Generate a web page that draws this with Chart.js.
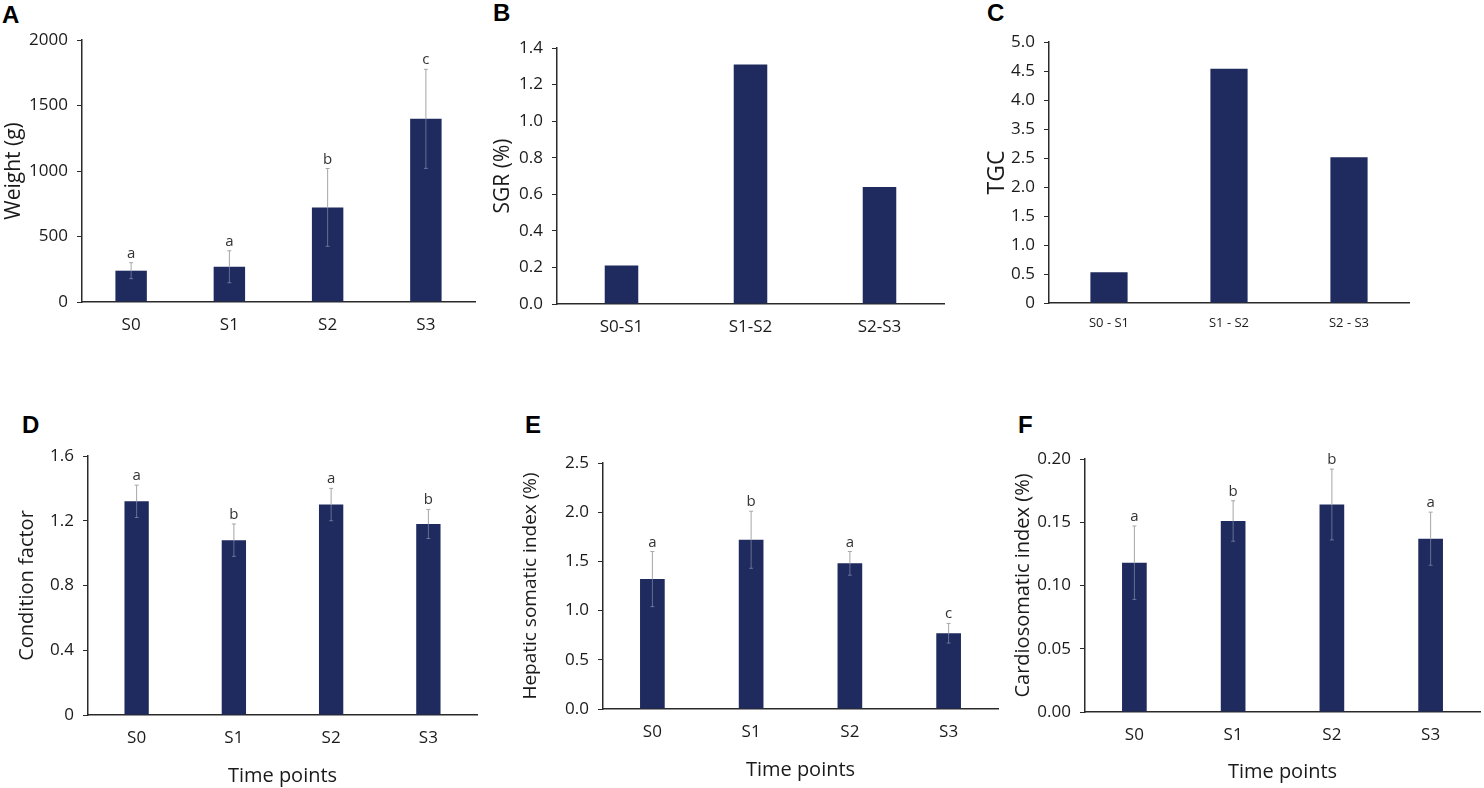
<!DOCTYPE html>
<html>
<head>
<meta charset="utf-8">
<script src="https://cdn.jsdelivr.net/npm/chart.js@4.4.1/dist/chart.umd.min.js"></script>
<style>
    body { margin: 0; background: #fff; width: 1484px; height: 788px; overflow: hidden; position: relative; }
    canvas { position: absolute; }
    .tag { position: absolute; font: bold 24px "Liberation Sans", Arial, sans-serif; line-height: 24px; color: #000; }
</style>
</head>
<body>
<div class="tag" style="left:2px;top:3px">A</div>
<div class="tag" style="left:493px;top:1px">B</div>
<div class="tag" style="left:987px;top:1px">C</div>
<div class="tag" style="left:22px;top:413px">D</div>
<div class="tag" style="left:525px;top:413px">E</div>
<div class="tag" style="left:1018px;top:413px">F</div>
<script>
// Categories
const TIME_POINTS = ["S0", "S1", "S2", "S3"];
const INTERVALS_B = ["S0-S1", "S1-S2", "S2-S3"];
const INTERVALS_C = ["S0 - S1", "S1 - S2", "S2 - S3"];

// A - Weight (g)
const WEIGHT = [239, 269, 722, 1398];
const WEIGHT_SD = [61, 122, 297, 378];
const WEIGHT_LETTERS = ["a", "a", "b", "c"];

// B - SGR (%)
const SGR = [0.21, 1.31, 0.64];

// C - TGC (values read against the printed labels; the axis skips 3.0)
const TGC = [0.53, 4.54, 2.53];
const TGC_TICKS = ["0", "0.5", "1.0", "1.5", "2.0", "2.5", "3.5", "4.0", "4.5", "5.0"];

// D - Condition factor
const CF = [1.32, 1.08, 1.30, 1.18];
const CF_SD = [0.10, 0.10, 0.10, 0.09];
const CF_LETTERS = ["a", "b", "a", "b"];

// E - Hepatic somatic index (%)
const HSI = [1.32, 1.72, 1.48, 0.77];
const HSI_SD = [0.28, 0.29, 0.12, 0.10];
const HSI_LETTERS = ["a", "b", "a", "c"];

// F - Cardiosomatic index (%)
const CSI = [0.118, 0.151, 0.164, 0.137];
const CSI_SD = [0.029, 0.016, 0.028, 0.021];
const CSI_LETTERS = ["a", "b", "b", "a"];

// ----- ----- ----- ----- -----

const NAVY = "#1f2a5e";
const AXIS = "#2a2a2a";
const TEXT = "#1a1a1a";
const FONT = "'Open Sans', sans-serif";

// printed TGC value -> position on the evenly spaced tick index
tgcToAxis = (v) => {
    const nums = TGC_TICKS.map(Number);
    for (let k = 0; k < nums.length - 1; k++) {
        if (v <= nums[k + 1]) {
            return k + (v - nums[k]) / (nums[k + 1] - nums[k]);
        }
    }
    return nums.length - 1;
};

// error bars + significance letters
const errorBars = {
    id: "errorBars",
    afterDatasetsDraw(chart, args, opts) {
        const ctx = chart.ctx;
        const y = chart.scales.y;
        const data = chart.data.datasets[0].data;
        chart.getDatasetMeta(0).data.forEach((bar, i) => {
            const v = data[i];
            let top = bar.y;
            if (opts.errors) {
                const e = opts.errors[i];
                top = y.getPixelForValue(v + e);
                const bot = y.getPixelForValue(v - e);
                ctx.save();
                ctx.lineWidth = 1;
                ctx.strokeStyle = "#a6a6a6";
                ctx.beginPath();
                ctx.moveTo(bar.x, bar.y);
                ctx.lineTo(bar.x, top);
                ctx.moveTo(bar.x - 2, top);
                ctx.lineTo(bar.x + 2, top);
                ctx.stroke();
                ctx.strokeStyle = "rgba(190,195,215,0.45)";
                ctx.beginPath();
                ctx.moveTo(bar.x, bar.y);
                ctx.lineTo(bar.x, bot);
                ctx.moveTo(bar.x - 2, bot);
                ctx.lineTo(bar.x + 2, bot);
                ctx.stroke();
                ctx.restore();
            }
            if (opts.letters) {
                ctx.save();
                ctx.font = "15px " + FONT;
                ctx.fillStyle = "#333";
                ctx.textAlign = "center";
                ctx.textBaseline = "alphabetic";
                ctx.fillText(opts.letters[i], bar.x, top - 5);
                ctx.restore();
            }
        });
    },
};

setupPanel = (p) => {
    const canvas = document.createElement("canvas");
    canvas.width = p.box[2];
    canvas.height = p.box[3];
    canvas.style.left = p.box[0] + "px";
    canvas.style.top = p.box[1] + "px";
    document.body.appendChild(canvas);

    const config = {
        type: "bar",
        data: {
            labels: p.labels,
            datasets: [
                {
                    data: p.values,
                    backgroundColor: NAVY,
                    categoryPercentage: 1,
                    barPercentage: p.barPct,
                },
            ],
        },
        options: {
            responsive: false,
            animation: false,
            layout: {
                padding: { top: p.inset.top, right: p.inset.right, left: 0, bottom: 0 },
            },
            plugins: {
                legend: { display: false },
                tooltip: { enabled: false },
                errorBars: { errors: p.errors, letters: p.letters },
            },
            scales: {
                x: {
                    grid: { display: true, drawOnChartArea: false, drawTicks: false },
                    border: { display: true, color: AXIS, width: 1.5 },
                    ticks: {
                        font: { family: FONT, size: p.xTickSize || 17 },
                        color: TEXT,
                        padding: p.xTickPad || 13,
                    },
                    title: {
                        display: !!p.xTitle,
                        text: p.xTitle || "",
                        font: { family: FONT, size: 20 },
                        color: TEXT,
                        padding: { top: 0, bottom: p.xTitlePad || 0 },
                    },
                    afterFit: (s) => { s.height = p.inset.bottom; },
                },
                y: {
                    min: p.yMin,
                    max: p.yMax,
                    ticks: {
                        stepSize: p.step,
                        autoSkip: false,
                        callback: p.fmt,
                        font: { family: FONT, size: 17 },
                        color: TEXT,
                        padding: 9,
                    },
                    grid: { drawOnChartArea: false, drawTicks: true, tickLength: 5, color: AXIS, lineWidth: 1 },
                    border: { display: true, color: AXIS, width: 1.5 },
                    title: {
                        display: true,
                        text: p.yTitle,
                        font: { family: FONT, size: p.yTitleSize },
                        color: TEXT,
                        padding: { top: p.yTitlePad, bottom: 0 },
                    },
                    afterFit: (s) => { s.width = p.inset.left; },
                },
            },
        },
        plugins: [errorBars],
    };

    let lineGraph = new Chart(canvas, config);
};

// A
setupPanel({
    box: [0, 0, 490, 345], inset: { left: 82, top: 40, right: 15, bottom: 43 },
    labels: TIME_POINTS, values: WEIGHT, errors: WEIGHT_SD, letters: WEIGHT_LETTERS,
    barPct: 0.32, yMin: 0, yMax: 2000, step: 500, fmt: (v) => String(v),
    yTitle: "Weight (g)", yTitleSize: 21, yTitlePad: 1,
});

// B
setupPanel({
    box: [490, 0, 490, 345], inset: { left: 67, top: 48, right: 36, bottom: 41 },
    labels: INTERVALS_B, values: SGR,
    barPct: 0.26, yMin: 0, yMax: 1.4, step: 0.2, fmt: (v) => v.toFixed(1),
    yTitle: "SGR (%)", yTitleSize: 21, yTitlePad: 0,
});

// C
setupPanel({
    box: [980, 0, 504, 345], inset: { left: 69, top: 42, right: 75, bottom: 42 },
    labels: INTERVALS_C, values: TGC.map(tgcToAxis),
    barPct: 0.31, yMin: 0, yMax: TGC_TICKS.length - 1, step: 1,
    fmt: (v) => TGC_TICKS[Math.round(v)],
    xTickSize: 13, xTickPad: 12,
    yTitle: "TGC", yTitleSize: 23, yTitlePad: 4,
});

// D
setupPanel({
    box: [0, 420, 490, 368], inset: { left: 88, top: 36, right: 13, bottom: 73 },
    labels: TIME_POINTS, values: CF, errors: CF_SD, letters: CF_LETTERS,
    barPct: 0.25, yMin: 0, yMax: 1.6, step: 0.4, fmt: (v) => (v === 0 ? "0" : v.toFixed(1)),
    yTitle: "Condition factor", yTitleSize: 20, yTitlePad: 15,
    xTitle: "Time points", xTitlePad: 0,
});

// E
setupPanel({
    box: [490, 420, 510, 368], inset: { left: 113, top: 43, right: 2, bottom: 79 },
    labels: TIME_POINTS, values: HSI, errors: HSI_SD, letters: HSI_LETTERS,
    barPct: 0.25, yMin: 0, yMax: 2.5, step: 0.5, fmt: (v) => v.toFixed(1),
    yTitle: "Hepatic somatic index (%)", yTitleSize: 19, yTitlePad: 29,
    xTitle: "Time points", xTitlePad: 6,
});

// F
setupPanel({
    box: [1000, 420, 484, 368], inset: { left: 85, top: 39, right: 4, bottom: 76 },
    labels: TIME_POINTS, values: CSI, errors: CSI_SD, letters: CSI_LETTERS,
    barPct: 0.25, yMin: 0, yMax: 0.2, step: 0.05, fmt: (v) => v.toFixed(2),
    yTitle: "Cardiosomatic index (%)", yTitleSize: 20, yTitlePad: 11,
    xTitle: "Time points", xTitlePad: 4,
});
</script>
</body>
</html>
